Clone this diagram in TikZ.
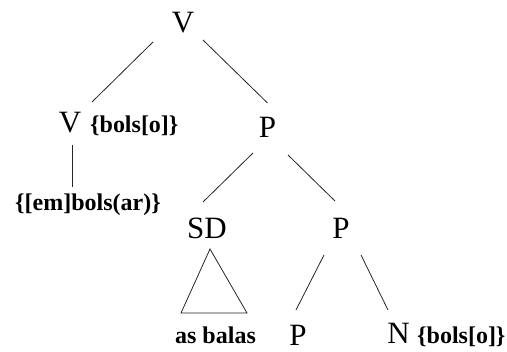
\documentclass[tikz,border=0pt]{standalone}
\usepackage{fontspec}
\setmainfont{Liberation Serif}
\begin{document}
\begin{tikzpicture}[x=1pt,y=1pt,
  cat/.style={inner sep=0pt,anchor=base,font=\fontsize{31}{31}\selectfont},
  feat/.style={inner sep=0pt,anchor=base west,font=\fontsize{24}{24}\selectfont\bfseries},
  word/.style={inner sep=0pt,anchor=base,font=\fontsize{24}{24}\selectfont\bfseries},
  edge/.style={draw=black!85,line width=0.8pt}]
\useasboundingbox (0,0) rectangle (507,-352);
% nodes
\node[cat] (Vtop) at (183,-33) {V};
\node[cat] (Vmid) at (70,-133) {V};
\node[feat] (fV) at (90,-133) {\{bols[o]\}};
\node[cat] (Pmid) at (267.5,-138) {P};
\node[word] (em) at (88,-211) {\{[em]bols(ar)\}};
\node[cat] (SD) at (207,-239) {SD};
\node[cat] (P2) at (341,-239) {P};
\node[word] (asb) at (215.5,-344) {as balas};
\node[cat] (P3) at (298,-346) {P};
\node[cat] (N) at (398.5,-344) {N};
\node[feat] (fN) at (417,-344) {\{bols[o]\}};
% connectors
\draw[edge] ([xshift=-30pt,yshift=-9pt]Vtop.base) -- ([xshift=22pt,yshift=31pt]Vmid.base);
\draw[edge] ([xshift=20pt,yshift=-7pt]Vtop.base) -- ([xshift=0pt,yshift=35pt]Pmid.base);
\draw[edge] ([xshift=2pt,yshift=-12pt]Vmid.base) -- ([xshift=-16pt,yshift=24pt]em.base);
\draw[edge] ([xshift=-14.5pt,yshift=-15pt]Pmid.base) -- ([xshift=-4pt,yshift=37pt]SD.base);
\draw[edge] ([xshift=20.5pt,yshift=-17pt]Pmid.base) -- ([xshift=-6pt,yshift=38pt]P2.base);
\draw[edge] ([xshift=-17pt,yshift=-16pt]P2.base) -- ([xshift=-2pt,yshift=36pt]P3.base);
\draw[edge] ([xshift=20pt,yshift=-16pt]P2.base) -- ([xshift=-10.5pt,yshift=34pt]N.base);
% triangle under SD
\draw[edge,line join=miter] ([xshift=3pt,yshift=-10pt]SD.base) -- ([xshift=-26pt,yshift=-74pt]SD.base) -- ([xshift=40pt,yshift=-74pt]SD.base) -- cycle;
\end{tikzpicture}
\end{document}
